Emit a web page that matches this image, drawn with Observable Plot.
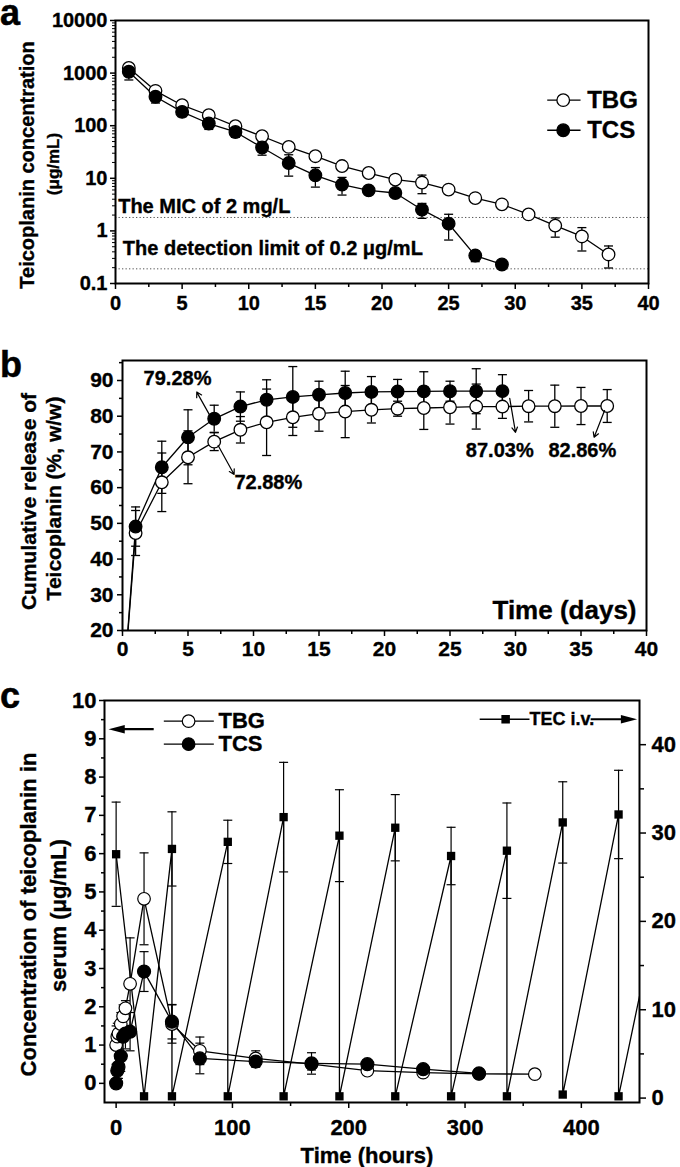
<!DOCTYPE html>
<html>
<head>
<meta charset="utf-8">
<script src="https://cdn.jsdelivr.net/npm/d3@7"></script>
<script src="https://cdn.jsdelivr.net/npm/@observablehq/plot@0.6"></script>
<style>
  body { margin: 0; background: #fff; }
  #fig { position: relative; width: 680px; height: 1167px; background: #fff;
         font-family: "Liberation Sans", Arial, Helvetica, sans-serif; font-weight: bold; color: #000; }
  #fig svg { position: absolute; left: 0; overflow: visible; }
  #fig svg text { font-weight: bold; stroke: #000; stroke-width: 0.35px; }
  .letter { position: absolute; font-size: 36px; font-weight: bold; line-height: 26px; -webkit-text-stroke: 0.5px #000; }
</style>
</head>
<body>
<div id="fig">
  <div class="letter" style="left:0px;top:0px;">a</div>
  <div class="letter" style="left:0px;top:352px;">b</div>
  <div class="letter" style="left:0px;top:683px;">c</div>
</div>
<script>
// ================= DATA =================
// Panel a: teicoplanin concentration (µg/mL) vs day, log scale
const daysA_TBG = [1, 3, 5, 7, 9, 11, 13, 15, 17, 19, 21, 23, 25, 27, 29, 31, 33, 35, 37];
const concA_TBG = [1250, 460, 245, 158, 98, 63, 39.5, 26.3, 17.1, 12.6, 9.45, 8.3, 6.1, 4.2, 3.2, 2.06, 1.26, 0.785, 0.357];
const sdA_TBG   = [180, 60, 35, 22, 12, 9, 6, 4, 2.5, 1.6, 1.6, 3.2, 1.0, 0.6, 0.35, 0.2, 0.5, 0.37, 0.16];
const daysA_TCS = [1, 3, 5, 7, 9, 11, 13, 15, 17, 19, 21, 23, 25, 27, 29];
const concA_TCS = [1060, 355, 183, 110, 76, 38.5, 19.5, 11.4, 7.6, 5.9, 5.25, 2.53, 1.37, 0.34, 0.23];
const sdA_TCS   = [320, 85, 35, 25, 16, 11, 8.5, 4.6, 2.8, 1.0, 0.9, 0.8, 0.7, 0.08, 0.02];
const micLevel = 1.8;          // "The MIC of 2 mg/L" dotted line
const detectionLevel = 0.19;   // "The detection limit of 0.2 µg/mL" dotted line
const xTicksA = [0, 5, 10, 15, 20, 25, 30, 35, 40];
const yTicksA = [0.1, 1, 10, 100, 1000, 10000];
const yTickLabelsA = ["0.1", "1", "10", "100", "1000", "10000"];

// Panel b: cumulative release (%, w/w) vs day
const daysB_TBG = [0, 1, 3, 5, 7, 9, 11, 13, 15, 17, 19, 21, 23, 25, 27, 29, 31, 33, 35, 37];
const relB_TBG  = [0, 47.3, 61.5, 68.5, 72.88, 76.2, 78.3, 79.7, 80.7, 81.3, 81.8, 82.1, 82.3, 82.5, 82.7, 82.7, 82.8, 82.8, 82.86, 82.86];
const sdB_TBG   = [0, 6.3, 8.2, 7.4, 2.5, 3.7, 9.3, 5.1, 4.9, 7.3, 3.7, 2.1, 6.0, 4.7, 6.3, 3.3, 4.4, 5.9, 5.2, 4.6];
const daysB_TCS = [0, 1, 3, 5, 7, 9, 11, 13, 15, 17, 19, 21, 23, 25, 27, 29];
const relB_TCS  = [0, 49.1, 65.7, 74.1, 79.28, 82.7, 84.6, 85.4, 86.0, 86.5, 86.8, 86.9, 86.95, 87.0, 87.0, 87.03];
const sdB_TCS   = [0, 5.5, 7.3, 7.7, 3.8, 4.1, 5.6, 8.5, 3.8, 6.1, 4.3, 3.4, 5.5, 2.8, 6.3, 4.6];
const xTicksB = [0, 5, 10, 15, 20, 25, 30, 35, 40];
const yTicksB = [20, 30, 40, 50, 60, 70, 80, 90];
const labelsB = ["79.28%", "72.88%", "87.03%", "82.86%"];

// Panel c: serum concentration (µg/mL, left axis) vs hours; TEC i.v. (right axis)
const hoursC_TBG = [0, 1, 2, 4, 6, 8, 12, 24, 48, 72, 120, 168, 216, 264, 312, 360];
const concC_TBG  = [1.0, 1.22, 1.3, 1.55, 1.75, 1.96, 2.6, 4.82, 1.55, 0.85, 0.65, 0.5, 0.33, 0.28, 0.25, 0.24];
const sdC_TBG    = [0.5, 0.35, 0.3, 0.3, 0.3, 0.2, 1.2, 1.2, 0.5, 0.36, 0.2, 0.15, 0.1, 0.08, 0.05, 0.05];
const hoursC_TCS = [0, 1, 2, 4, 6, 8, 12, 24, 48, 72, 120, 168, 216, 264, 312];
const concC_TCS  = [0, 0.33, 0.43, 0.71, 1.22, 1.3, 1.35, 2.92, 1.61, 0.65, 0.57, 0.52, 0.5, 0.37, 0.26];
const sdC_TCS    = [0.05, 0.2, 0.3, 0.4, 0.5, 0.4, 0.5, 0.52, 0.45, 0.4, 0.15, 0.28, 0.12, 0.08, 0.05];
const hoursC_TEC = [0, 24, 48, 48, 96, 96, 144, 144, 192, 192, 240, 240, 288, 288, 336, 336, 384, 384, 432, 432, 480];
const concC_TEC  = [27.6, 0.2, 28.2, 0.2, 29.0, 0.2, 31.8, 0.2, 29.7, 0.2, 30.6, 0.2, 27.4, 0.2, 28.0, 0.2, 31.2, 0.4, 32.1, 0.2, 30.4];
const peakHoursC_TEC = [0, 48, 96, 144, 192, 240, 288, 336, 384, 432];
const peakConcC_TEC  = [27.6, 28.2, 29.0, 31.8, 29.7, 30.6, 27.4, 28.0, 31.2, 32.1];
const peakSdC_TEC    = [5.9, 4.2, 2.45, 6.2, 5.2, 3.75, 3.25, 5.4, 4.6, 5.0];
const xTicksC = [0, 100, 200, 300, 400];
const yTicksC = [0, 1, 2, 3, 4, 5, 6, 7, 8, 9, 10];
const yRightTicksC = [0, 10, 20, 30, 40];

// ================= HELPERS =================
const FONT = '"Liberation Sans", Arial, Helvetica, sans-serif';
const fig = document.getElementById("fig");
function place(svg, top) { svg.style.top = top + "px"; fig.appendChild(svg); }
const zip = (xs, vs, sds) => xs.map((t, i) => ({t, v: vs[i], sd: sds ? sds[i] : 0}));
const capSym = {draw(ctx, size) { const w = Math.sqrt(size / Math.PI); ctx.moveTo(-w, 0); ctx.lineTo(w, 0); }};
const leftTri = {draw(ctx, size) { const s = Math.sqrt(size / Math.PI); ctx.moveTo(-1.6 * s, 0); ctx.lineTo(0.9 * s, -0.65 * s); ctx.lineTo(0.9 * s, 0.65 * s); ctx.closePath(); }};
const rightTri = {draw(ctx, size) { const s = Math.sqrt(size / Math.PI); ctx.moveTo(1.6 * s, 0); ctx.lineTo(-0.9 * s, -0.65 * s); ctx.lineTo(-0.9 * s, 0.65 * s); ctx.closePath(); }};
function errBars(rows, cap = 4.5, sw = 1.3) {
  const r = rows.filter(d => d.hi > d.lo);
  const base = {stroke: "black", strokeWidth: sw, clip: true};
  return [
    Plot.ruleX(r, {x: "t", y1: "lo", y2: "hi", ...base}),
    Plot.dot(r, {x: "t", y: "hi", symbol: capSym, r: cap, fill: "none", ...base}),
    Plot.dot(r, {x: "t", y: "lo", symbol: capSym, r: cap, fill: "none", ...base})
  ];
}
const sym = rows => rows.map(d => ({...d, lo: d.v - d.sd, hi: d.v + d.sd}));
const halfSteps = (a, b, step) => d3.range(a, b + 1e-9, step);
const vTitle = (txt, dx, dy, fontSize) =>
  Plot.text([txt], {frameAnchor: "left", rotate: -90, textAnchor: "middle", lineAnchor: "middle", dx, dy, fontSize});

// ================= PANEL A =================
const A_TBG = sym(zip(daysA_TBG, concA_TBG, sdA_TBG));
const A_TCS = sym(zip(daysA_TCS, concA_TCS, sdA_TCS));
const minorLogA = [];
[0.1, 1, 10, 100, 1000].forEach(d => { for (let k = 2; k <= 9; k++) minorLogA.push(k * d); });
const legendA = [{label: "TBG", y: 306, fill: "white"}, {label: "TCS", y: 82, fill: "black"}];
const annotA = [{text: "The MIC of 2 mg/L", x: 0.2, y: 2.84}, {text: "The detection limit of 0.2 μg/mL", x: 0.55, y: 0.458}];

const svgA = Plot.plot({
  width: 680, height: 330, marginTop: 20, marginRight: 32, marginBottom: 47, marginLeft: 115,
  style: {fontFamily: FONT, fontWeight: "bold", background: "transparent", color: "black"},
  x: {domain: [0, 40]},
  y: {type: "log", domain: [0.1, 10000]},
  marks: [
    Plot.ruleY([micLevel, detectionLevel], {stroke: "#555", strokeWidth: 1, strokeDasharray: "1.3,2.2"}),
    Plot.text(annotA, {x: "x", y: "y", text: "text", textAnchor: "start", fontSize: 20}),
    ...errBars(A_TBG),
    ...errBars(A_TCS),
    Plot.line(A_TBG, {x: "t", y: "v", stroke: "black", strokeWidth: 1.3}),
    Plot.line(A_TCS, {x: "t", y: "v", stroke: "black", strokeWidth: 1.3}),
    Plot.dot(A_TBG, {x: "t", y: "v", r: 6.3, fill: "white", stroke: "black", strokeWidth: 1.3}),
    Plot.dot(A_TCS, {x: "t", y: "v", r: 6.3, fill: "black", stroke: "black", strokeWidth: 1.3}),
    // legend
    Plot.link(legendA, {x1: () => 32.4, x2: () => 34.9, y1: "y", y2: "y", stroke: "black", strokeWidth: 1.3}),
    Plot.dot(legendA, {x: () => 33.6, y: "y", r: 6.3, fill: "fill", stroke: "black", strokeWidth: 1.3}),
    Plot.text(legendA, {x: () => 35.4, y: "y", text: "label", textAnchor: "start", fontSize: 24}),
    // titles
    vTitle("Teicoplanin concentration", -88, 13, 20),
    vTitle("(μg/mL)", -62, 12, 17),
    Plot.frame({stroke: "black", strokeWidth: 2}),
    Plot.axisX({ticks: xTicksA, tickSize: 6, tickPadding: 6, fontSize: 20, strokeWidth: 1.5, label: null, tickFormat: d => String(d)}),
    Plot.axisX({ticks: xTicksA.slice(0, -1).map(d => d + 2.5), tickSize: 4, strokeWidth: 1.5, label: null, tickFormat: () => ""}),
    Plot.axisY({ticks: yTicksA, tickSize: 5, tickPadding: 3, fontSize: 20, strokeWidth: 1.5, label: null,
                tickFormat: d => yTickLabelsA[yTicksA.indexOf(d)]}),
    Plot.axisY({ticks: minorLogA, tickSize: 3, strokeWidth: 1, label: null, tickFormat: () => ""})
  ]
});
place(svgA, 0);

// ================= PANEL B =================
const B_TBG = sym(zip(daysB_TBG, relB_TBG, sdB_TBG));
const B_TCS = sym(zip(daysB_TCS, relB_TCS, sdB_TCS));
const annotB = [
  {text: labelsB[0], x: 4.2, y: 90.5},
  {text: labelsB[1], x: 11.13, y: 61.3},
  {text: labelsB[2], x: 28.8, y: 70.4},
  {text: labelsB[3], x: 35.1, y: 70.4}
];
const arrowsB = [
  {x1: 6.74, y1: 79.75, x2: 5.67, y2: 86.75},
  {x1: 7.3, y1: 71.8, x2: 8.52, y2: 63.7},
  {x1: 29.56, y1: 85.0, x2: 30.0, y2: 75.5},
  {x1: 36.8, y1: 81.6, x2: 36.0, y2: 74.1}
];
const svgB = Plot.plot({
  width: 680, height: 340, marginTop: 20, marginRight: 34, marginBottom: 50, marginLeft: 122,
  style: {fontFamily: FONT, fontWeight: "bold", background: "transparent", color: "black"},
  x: {domain: [0, 40]},
  y: {domain: [20, 95.6]},
  marks: [
    ...errBars(B_TBG),
    ...errBars(B_TCS),
    Plot.line(B_TBG, {x: "t", y: "v", stroke: "black", strokeWidth: 1.3, clip: true}),
    Plot.line(B_TCS, {x: "t", y: "v", stroke: "black", strokeWidth: 1.3, clip: true}),
    Plot.dot(B_TBG.filter(d => d.t > 0), {x: "t", y: "v", r: 6.3, fill: "white", stroke: "black", strokeWidth: 1.3}),
    Plot.dot(B_TCS.filter(d => d.t > 0), {x: "t", y: "v", r: 6.3, fill: "black", stroke: "black", strokeWidth: 1.3}),
    Plot.arrow(arrowsB, {x1: "x1", y1: "y1", x2: "x2", y2: "y2", stroke: "black", strokeWidth: 1.2, headLength: 7}),
    Plot.text(annotB, {x: "x", y: "y", text: "text", fontSize: 20}),
    Plot.text(["Time (days)"], {frameAnchor: "bottom-right", textAnchor: "end", lineAnchor: "middle", dx: -10, dy: -20, fontSize: 26}),
    vTitle("Cumulative release of", -93, 6, 21),
    vTitle("Teicoplanin (%, w/w)", -68, 3, 21),
    Plot.frame({stroke: "black", strokeWidth: 2}),
    Plot.axisX({ticks: xTicksB, tickSize: 6, tickPadding: 5, fontSize: 21, strokeWidth: 1.5, label: null, tickFormat: d => String(d)}),
    Plot.axisX({ticks: xTicksB.slice(0, -1).map(d => d + 2.5), tickSize: 4, strokeWidth: 1.5, label: null, tickFormat: () => ""}),
    Plot.axisY({ticks: yTicksB, tickSize: 5, tickPadding: 4, fontSize: 21, strokeWidth: 1.5, label: null, tickFormat: d => String(d)}),
    Plot.axisY({ticks: yTicksB.map(d => d + 5), tickSize: 3, strokeWidth: 1.5, label: null, tickFormat: () => ""})
  ]
});
place(svgB, 340);

// ================= PANEL C =================
const LEFT = [-0.5, 10], RIGHT = [-0.5, 45];
const toLeft = r => LEFT[0] + (r - RIGHT[0]) * (LEFT[1] - LEFT[0]) / (RIGHT[1] - RIGHT[0]);
const fromLeft = l => RIGHT[0] + (l - LEFT[0]) * (RIGHT[1] - RIGHT[0]) / (LEFT[1] - LEFT[0]);
const C_TBG = sym(zip(hoursC_TBG, concC_TBG, sdC_TBG));
const C_TCS = sym(zip(hoursC_TCS, concC_TCS, sdC_TCS));
const C_TEC = hoursC_TEC.map((t, i) => ({t, v: toLeft(concC_TEC[i])}));
const C_TECerr = peakHoursC_TEC.map((t, i) => ({t, v: toLeft(peakConcC_TEC[i]),
  lo: toLeft(peakConcC_TEC[i] - peakSdC_TEC[i]), hi: toLeft(peakConcC_TEC[i] + peakSdC_TEC[i])}));
const legendC = [{label: "TBG", y: 9.46, fill: "white"}, {label: "TCS", y: 8.86, fill: "black"}];
const legendTEC = [{label: "TEC i.v.", y: 9.51}];

const svgC = Plot.plot({
  width: 680, height: 487, marginTop: 20, marginRight: 41, marginBottom: 65, marginLeft: 104,
  style: {fontFamily: FONT, fontWeight: "bold", background: "transparent", color: "black"},
  x: {domain: [-10, 450]},
  y: {domain: LEFT},
  marks: [
    // TEC i.v. (right axis)
    ...errBars(C_TECerr, 4.5, 1.2),
    Plot.line(C_TEC, {x: "t", y: "v", stroke: "black", strokeWidth: 1.3, clip: true}),
    Plot.dot(C_TEC.filter(d => d.t <= 450), {x: "t", y: "v", symbol: "square", r: 4.7, fill: "black"}),
    // TBG / TCS (left axis)
    ...errBars(C_TBG, 4.5, 1.2),
    ...errBars(C_TCS, 4.5, 1.2),
    Plot.line(C_TBG, {x: "t", y: "v", stroke: "black", strokeWidth: 1.3}),
    Plot.line(C_TCS, {x: "t", y: "v", stroke: "black", strokeWidth: 1.3}),
    Plot.dot(C_TBG, {x: "t", y: "v", r: 6.3, fill: "white", stroke: "black", strokeWidth: 1.2}),
    Plot.dot(C_TCS, {x: "t", y: "v", r: 6.5, fill: "black", stroke: "black", strokeWidth: 1.2}),
    // legend: TBG / TCS with arrow to left axis
    Plot.link(legendC, {x1: () => 41, x2: () => 84, y1: "y", y2: "y", stroke: "black", strokeWidth: 1.3}),
    Plot.dot(legendC, {x: () => 62.3, y: "y", r: 6.3, fill: "fill", stroke: "black", strokeWidth: 1.2}),
    Plot.text(legendC, {x: () => 88, y: "y", text: "label", textAnchor: "start", fontSize: 22}),
    Plot.link([9.25], {x1: () => 5, x2: () => 32.3, y1: d => d, y2: d => d, stroke: "black", strokeWidth: 2.2}),
    Plot.dot([9.25], {x: () => 2.4, y: d => d, symbol: leftTri, r: 6.5, fill: "black"}),
    // legend: TEC i.v. with arrow to right axis
    Plot.link(legendTEC, {x1: () => 312.6, x2: () => 355.4, y1: "y", y2: "y", stroke: "black", strokeWidth: 1.3}),
    Plot.dot(legendTEC, {x: () => 334.9, y: "y", symbol: "square", r: 4.8, fill: "black"}),
    Plot.text(legendTEC, {x: () => 355.4, y: "y", text: "label", textAnchor: "start", fontSize: 18}),
    Plot.link(legendTEC, {x1: () => 408, x2: () => 436, y1: "y", y2: "y", stroke: "black", strokeWidth: 2.2}),
    Plot.dot(legendTEC, {x: () => 439, y: "y", symbol: rightTri, r: 6.5, fill: "black"}),
    // titles
    Plot.text(["Time (hours)"], {frameAnchor: "bottom", lineAnchor: "middle", dx: -5, dy: 53, fontSize: 22}),
    vTitle("Concentration of teicoplanin in", -76, 13, 22),
    vTitle("serum (μg/mL)", -46, 14, 22),
    Plot.frame({stroke: "black", strokeWidth: 2}),
    Plot.axisX({ticks: xTicksC, tickSize: 6, tickPadding: 11, fontSize: 22, strokeWidth: 1.5, label: null, tickFormat: d => String(d)}),
    Plot.axisX({ticks: [50, 150, 250, 350], tickSize: 4, strokeWidth: 1.5, label: null, tickFormat: () => ""}),
    Plot.axisY({ticks: yTicksC, tickSize: 5, tickPadding: 3, fontSize: 22, strokeWidth: 1.5, label: null, tickFormat: d => String(d)}),
    Plot.axisY({ticks: halfSteps(0.5, 9.5, 1), tickSize: 3, strokeWidth: 1.5, label: null, tickFormat: () => ""}),
    Plot.axisY({anchor: "right", ticks: yRightTicksC.map(toLeft), tickSize: 6, tickPadding: 6, fontSize: 22, strokeWidth: 1.5,
                label: null, tickFormat: d => String(Math.round(fromLeft(d)))}),
    Plot.axisY({anchor: "right", ticks: [5, 15, 25, 35].map(toLeft), tickSize: 4, strokeWidth: 1.5, label: null, tickFormat: () => ""})
  ]
});
place(svgC, 680);
</script>
</body>
</html>
